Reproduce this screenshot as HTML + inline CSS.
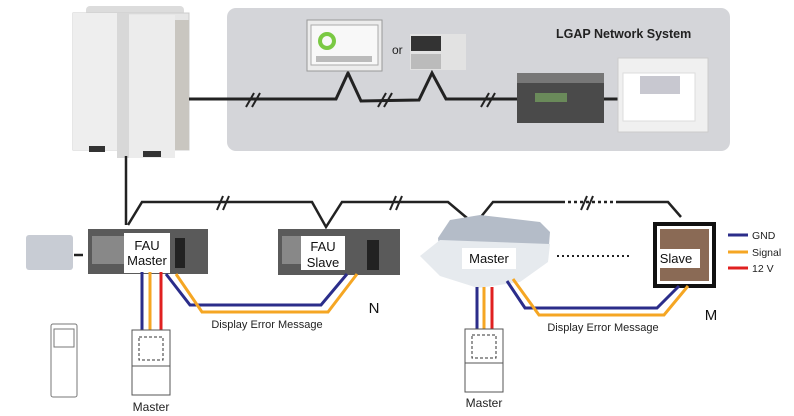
<!DOCTYPE html>
<html><head><meta charset="utf-8"><style>
body{margin:0;background:#fff;width:794px;height:416px;overflow:hidden}
svg{display:block}
text{font-family:"Liberation Sans",sans-serif}
</style></head><body>
<svg width="794" height="416" viewBox="0 0 794 416" xmlns="http://www.w3.org/2000/svg">
<rect x="227" y="8" width="503" height="143" rx="9" fill="#d4d5d9"/>
<text x="556" y="38" font-size="12.5" font-weight="bold" fill="#222">LGAP Network System</text>
<rect x="86" y="6" width="98" height="10" rx="4" fill="#dcdcdc"/>
<rect x="73" y="13" width="116" height="137" fill="#e6e6e6" stroke="#ccc"/>
<rect x="73" y="13" width="44" height="137" fill="#eeeeee"/>
<rect x="117" y="13" width="12" height="145" fill="#d8d8d8"/>
<rect x="129" y="15" width="46" height="143" fill="#ececec"/>
<rect x="175" y="20" width="14" height="130" fill="#c9c6c0"/>
<rect x="89" y="146" width="16" height="6" fill="#333"/>
<rect x="143" y="151" width="18" height="6" fill="#333"/>
<polyline points="189,99 336,99 348,73 361,101 419,100 432,73 446,99 517,99" fill="none" stroke="#222" stroke-width="3"/>
<line x1="603" y1="99" x2="618" y2="99" stroke="#222" stroke-width="3"/>
<g stroke="#222" stroke-width="2">
<line x1="246" y1="107" x2="254" y2="93"/><line x1="252" y1="107" x2="260" y2="93"/>
<line x1="378" y1="107" x2="386" y2="93"/><line x1="384" y1="107" x2="392" y2="93"/>
<line x1="481" y1="107" x2="489" y2="93"/><line x1="487" y1="107" x2="495" y2="93"/>
</g>
<rect x="307" y="20" width="75" height="51" fill="#ececec" stroke="#999"/>
<rect x="311" y="25" width="67" height="40" fill="#f8f8f8" stroke="#aaa"/>
<circle cx="327" cy="41" r="7" fill="none" stroke="#7ac943" stroke-width="4"/>
<rect x="316" y="56" width="56" height="6" fill="#bbb"/>
<text x="392" y="54" font-size="12" fill="#222">or</text>
<rect x="410" y="34" width="56" height="36" fill="#e2e2e2"/>
<rect x="411" y="36" width="30" height="15" fill="#333"/>
<rect x="411" y="54" width="30" height="15" fill="#bbb"/>
<rect x="517" y="73" width="87" height="50" fill="#4a4a4a"/>
<rect x="517" y="73" width="87" height="10" fill="#777"/>
<rect x="535" y="93" width="32" height="9" fill="#6a8a5a"/>
<rect x="618" y="58" width="90" height="74" fill="#f0f0f0" stroke="#ccc"/>
<rect x="623" y="73" width="72" height="48" fill="#fff" stroke="#ddd"/>
<rect x="640" y="76" width="40" height="18" fill="#c8c8d0"/>
<line x1="126" y1="156" x2="126" y2="225" stroke="#222" stroke-width="2.5"/>
<polyline points="128,225 142,202 312,202 326,227 342,202 448,202 467,218" fill="none" stroke="#222" stroke-width="2.5"/>
<polyline points="480,218 493,202 562,202" fill="none" stroke="#222" stroke-width="2.5"/>
<line x1="562" y1="202" x2="618" y2="202" stroke="#222" stroke-width="2.5" stroke-dasharray="3,3"/>
<polyline points="618,202 668,202 681,217" fill="none" stroke="#222" stroke-width="2.5"/>
<g stroke="#222" stroke-width="2">
<line x1="217" y1="210" x2="223" y2="196"/><line x1="223" y1="210" x2="229" y2="196"/>
<line x1="390" y1="210" x2="396" y2="196"/><line x1="396" y1="210" x2="402" y2="196"/>
<line x1="581" y1="210" x2="587" y2="196"/><line x1="587" y1="210" x2="593" y2="196"/>
</g>
<rect x="26" y="235" width="47" height="35" rx="3" fill="#c8ccd4"/>
<line x1="74" y1="255" x2="83" y2="255" stroke="#222" stroke-width="2.5"/>
<rect x="88" y="229" width="120" height="45" fill="#5a5a5a"/>
<rect x="92" y="236" width="32" height="28" fill="#888"/>
<rect x="175" y="238" width="10" height="30" fill="#222"/>
<rect x="124" y="233" width="46" height="40" fill="#fff"/>
<text x="147" y="250" font-size="13" text-anchor="middle" fill="#111">FAU</text>
<text x="147" y="265" font-size="13" text-anchor="middle" fill="#111">Master</text>
<rect x="278" y="229" width="122" height="46" fill="#5a5a5a"/>
<rect x="282" y="236" width="26" height="28" fill="#888"/>
<rect x="367" y="240" width="12" height="30" fill="#222"/>
<rect x="301" y="236" width="44" height="34" fill="#fff"/>
<text x="323" y="251" font-size="13" text-anchor="middle" fill="#111">FAU</text>
<text x="323" y="267" font-size="13" text-anchor="middle" fill="#111">Slave</text>
<g fill="none" stroke-width="3">
<line x1="142" y1="272" x2="142" y2="331" stroke="#2b2d8a"/>
<line x1="150" y1="272" x2="150" y2="331" stroke="#f5a623"/>
<line x1="161" y1="272" x2="161" y2="331" stroke="#e02020"/>
<polyline points="166,274 190,305 321,305 347,274" stroke="#2b2d8a"/>
<polyline points="176,274 202,312 328,312 357,274" stroke="#f5a623"/>
</g>
<text x="267" y="328" font-size="11" text-anchor="middle" fill="#222">Display Error Message</text>
<text x="374" y="313" font-size="15" text-anchor="middle" fill="#111">N</text>
<rect x="132" y="330" width="38" height="65" fill="#fff" stroke="#555"/>
<line x1="132" y1="366" x2="170" y2="366" stroke="#555"/>
<rect x="139" y="337" width="24" height="23" fill="none" stroke="#333" stroke-dasharray="3,2"/>
<text x="151" y="411" font-size="12" text-anchor="middle" fill="#222">Master</text>
<rect x="51" y="324" width="26" height="73" rx="2" fill="#fff" stroke="#777"/>
<rect x="54" y="329" width="20" height="18" fill="#fff" stroke="#777"/>
<!-- cassette -->
<polygon points="438,238 450,220 480,215 540,222 550,232 548,258 440,256" fill="#b4bcc8"/>
<polygon points="420,256 440,240 550,244 548,262 520,282 478,288 440,276" fill="#e6eaee"/>
<rect x="462" y="248" width="54" height="21" fill="#fff"/>
<text x="489" y="263" font-size="13" text-anchor="middle" fill="#111">Master</text>
<line x1="557" y1="256" x2="630" y2="256" stroke="#222" stroke-width="2" stroke-dasharray="2,3"/>
<rect x="653" y="222" width="63" height="66" fill="#111"/>
<rect x="657" y="226" width="55" height="58" fill="#fff"/>
<rect x="660" y="229" width="49" height="52" fill="#8a6a55"/>
<rect x="658" y="249" width="42" height="19" fill="#fff"/>
<text x="676" y="263" font-size="13" text-anchor="middle" fill="#111">Slave</text>
<g stroke-width="3">
<line x1="728" y1="235" x2="748" y2="235" stroke="#2b2d8a"/>
<line x1="728" y1="252" x2="748" y2="252" stroke="#f5a623"/>
<line x1="728" y1="268" x2="748" y2="268" stroke="#e02020"/>
</g>
<text x="752" y="239" font-size="10.5" fill="#222">GND</text>
<text x="752" y="256" font-size="10.5" fill="#222">Signal</text>
<text x="752" y="272" font-size="10.5" fill="#222">12 V</text>
<g fill="none" stroke-width="3">
<line x1="477" y1="287" x2="477" y2="330" stroke="#2b2d8a"/>
<line x1="484" y1="287" x2="484" y2="330" stroke="#f5a623"/>
<line x1="492" y1="287" x2="492" y2="330" stroke="#e02020"/>
<polyline points="507,281 525,308 657,308 679,286" stroke="#2b2d8a"/>
<polyline points="513,279 539,315 664,315 688,286" stroke="#f5a623"/>
</g>
<text x="603" y="331" font-size="11" text-anchor="middle" fill="#222">Display Error Message</text>
<text x="711" y="320" font-size="15" text-anchor="middle" fill="#111">M</text>
<rect x="465" y="329" width="38" height="63" fill="#fff" stroke="#555"/>
<line x1="465" y1="363" x2="503" y2="363" stroke="#555"/>
<rect x="472" y="335" width="24" height="23" fill="none" stroke="#333" stroke-dasharray="3,2"/>
<text x="484" y="407" font-size="12" text-anchor="middle" fill="#222">Master</text>
</svg>
</body></html>
